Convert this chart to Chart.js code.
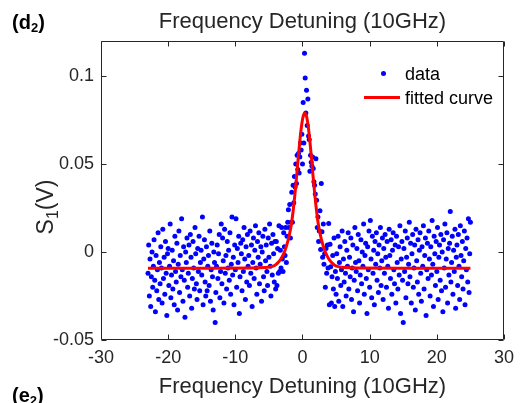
<!DOCTYPE html>
<html><head><meta charset="utf-8">
<script src="https://cdn.jsdelivr.net/npm/chart.js@4/dist/chart.umd.min.js"></script>
<style>
html,body{margin:0;padding:0;background:#fff;}
#wrap{position:relative;width:521px;height:403px;overflow:hidden;font-family:"Liberation Sans",Arial,sans-serif;color:#262626;}
canvas{position:absolute;left:0;top:0;}
.lbl{position:absolute;white-space:nowrap;}
</style></head><body>
<div id="wrap">
<canvas id="c" width="521" height="403"></canvas>
<div class="lbl" style="left:12px;top:12px;font-size:20px;line-height:20px;font-weight:bold;color:#000;">(d<sub style="font-size:13px;vertical-align:-3px;line-height:0;">2</sub>)</div>
<div class="lbl" style="left:12px;top:385px;font-size:20px;line-height:20px;font-weight:bold;color:#000;">(e<sub style="font-size:13px;vertical-align:-3px;line-height:0;">2</sub>)</div>
<div class="lbl" id="ylab" style="left:45px;top:207px;font-size:23px;line-height:23px;transform:translate(-50%,-50%) rotate(-90deg);">S<sub style="font-size:16px;vertical-align:-5px;line-height:0;">1</sub>(V)</div>
<div class="lbl" style="left:380.5px;top:70.5px;width:5px;height:5px;border-radius:50%;background:#0000FF;"></div>
<div class="lbl" style="left:364px;top:95.5px;width:36px;height:3px;background:#FF0000;"></div>
<div class="lbl" id="leg1" style="left:405px;top:64.8px;font-size:18px;line-height:18px;color:#000;">data</div>
<div class="lbl" id="leg2" style="left:405px;top:88.8px;font-size:18px;line-height:18px;color:#000;">fitted curve</div>
</div>
<script>
const FONT = '"Liberation Sans", Arial, sans-serif';
const titleText = 'Frequency Detuning (10GHz)';
const xTitleText = 'Frequency Detuning (10GHz)';
const xTickValues = [-30, -20, -10, 0, 10, 20, 30];
const xTickLabels = ['-30', '-20', '-10', '0', '10', '20', '30'];
const yTickValues = [-0.05, 0, 0.05, 0.1];
const yTickLabels = ['-0.05', '0', '0.05', '0.1'];

const xData = [
-23.0,-22.9,-22.8,-22.7,-22.6,-22.5,-22.4,-22.3,-22.2,-22.1,
-22.0,-21.9,-21.8,-21.7,-21.6,-21.5,-21.4,-21.3,-21.2,-21.1,
-21.0,-20.9,-20.8,-20.7,-20.6,-20.5,-20.4,-20.3,-20.2,-20.1,
-20.0,-19.9,-19.8,-19.7,-19.6,-19.5,-19.4,-19.3,-19.2,-19.1,
-19.0,-18.9,-18.8,-18.7,-18.6,-18.5,-18.4,-18.3,-18.2,-18.1,
-18.0,-17.9,-17.8,-17.7,-17.6,-17.5,-17.4,-17.3,-17.2,-17.1,
-17.0,-16.9,-16.8,-16.7,-16.6,-16.5,-16.4,-16.3,-16.2,-16.1,
-16.0,-15.9,-15.8,-15.7,-15.6,-15.5,-15.4,-15.3,-15.2,-15.1,
-15.0,-14.9,-14.8,-14.7,-14.6,-14.5,-14.4,-14.3,-14.2,-14.1,
-14.0,-13.9,-13.8,-13.7,-13.6,-13.5,-13.4,-13.3,-13.2,-13.1,
-13.0,-12.9,-12.8,-12.7,-12.6,-12.5,-12.4,-12.3,-12.2,-12.1,
-12.0,-11.9,-11.8,-11.7,-11.6,-11.5,-11.4,-11.3,-11.2,-11.1,
-11.0,-10.9,-10.8,-10.7,-10.6,-10.5,-10.4,-10.3,-10.2,-10.1,
-10.0,-9.9,-9.8,-9.7,-9.6,-9.5,-9.4,-9.3,-9.2,-9.1,
-9.0,-8.9,-8.8,-8.7,-8.6,-8.5,-8.4,-8.3,-8.2,-8.1,
-8.0,-7.9,-7.8,-7.7,-7.6,-7.5,-7.4,-7.3,-7.2,-7.1,
-7.0,-6.9,-6.8,-6.7,-6.6,-6.5,-6.4,-6.3,-6.2,-6.1,
-6.0,-5.9,-5.8,-5.7,-5.6,-5.5,-5.4,-5.3,-5.2,-5.1,
-5.0,-4.9,-4.8,-4.7,-4.6,-4.5,-4.4,-4.3,-4.2,-4.1,
-4.0,-3.9,-3.8,-3.7,-3.6,-3.5,-3.4,-3.3,-3.2,-3.1,
-3.0,-2.9,-2.8,-2.7,-2.6,-2.5,-2.4,-2.3,-2.2,-2.1,
-2.0,-1.9,-1.8,-1.7,-1.6,-1.5,-1.4,-1.3,-1.2,-1.1,
-1.0,-0.9,-0.8,-0.7,-0.6,-0.5,-0.4,-0.3,-0.2,-0.1,
0.0,0.1,0.2,0.3,0.4,0.5,0.6,0.7,0.8,0.9,
1.0,1.1,1.2,1.3,1.4,1.5,1.6,1.7,1.8,1.9,
2.0,2.1,2.2,2.3,2.4,2.5,2.6,2.7,2.8,2.9,
3.0,3.1,3.2,3.3,3.4,3.5,3.6,3.7,3.8,3.9,
4.0,4.1,4.2,4.3,4.4,4.5,4.6,4.7,4.8,4.9,
5.0,5.1,5.2,5.3,5.4,5.5,5.6,5.7,5.8,5.9,
6.0,6.1,6.2,6.3,6.4,6.5,6.6,6.7,6.8,6.9,
7.0,7.1,7.2,7.3,7.4,7.5,7.6,7.7,7.8,7.9,
8.0,8.1,8.2,8.3,8.4,8.5,8.6,8.7,8.8,8.9,
9.0,9.1,9.2,9.3,9.4,9.5,9.6,9.7,9.8,9.9,
10.0,10.1,10.2,10.3,10.4,10.5,10.6,10.7,10.8,10.9,
11.0,11.1,11.2,11.3,11.4,11.5,11.6,11.7,11.8,11.9,
12.0,12.1,12.2,12.3,12.4,12.5,12.6,12.7,12.8,12.9,
13.0,13.1,13.2,13.3,13.4,13.5,13.6,13.7,13.8,13.9,
14.0,14.1,14.2,14.3,14.4,14.5,14.6,14.7,14.8,14.9,
15.0,15.1,15.2,15.3,15.4,15.5,15.6,15.7,15.8,15.9,
16.0,16.1,16.2,16.3,16.4,16.5,16.6,16.7,16.8,16.9,
17.0,17.1,17.2,17.3,17.4,17.5,17.6,17.7,17.8,17.9,
18.0,18.1,18.2,18.3,18.4,18.5,18.6,18.7,18.8,18.9,
19.0,19.1,19.2,19.3,19.4,19.5,19.6,19.7,19.8,19.9,
20.0,20.1,20.2,20.3,20.4,20.5,20.6,20.7,20.8,20.9,
21.0,21.1,21.2,21.3,21.4,21.5,21.6,21.7,21.8,21.9,
22.0,22.1,22.2,22.3,22.4,22.5,22.6,22.7,22.8,22.9,
23.0,23.1,23.2,23.3,23.4,23.5,23.6,23.7,23.8,23.9,
24.0,24.1,24.2,24.3,24.4,24.5,24.6,24.7,24.8,24.9,
25.0
];

const yData = [
-0.012,0.004,-0.025,-0.004,-0.031,-0.014,0.000,-0.020,-0.008,0.007,
-0.016,-0.034,-0.002,-0.022,-0.010,0.011,-0.027,-0.006,-0.018,0.003,
-0.009,-0.029,0.013,-0.015,-0.003,-0.024,0.006,-0.012,-0.036,-0.001,
0.002,-0.019,-0.008,0.016,-0.026,-0.013,0.001,-0.021,-0.005,-0.030,
0.009,-0.011,-0.017,0.005,-0.033,-0.007,0.012,-0.023,-0.002,-0.014,
0.019,-0.010,-0.028,0.003,-0.016,-0.037,0.000,-0.006,0.008,-0.020,
-0.012,0.004,-0.025,0.010,-0.003,-0.032,-0.015,0.006,-0.009,-0.021,
0.014,-0.001,-0.018,-0.027,0.002,-0.011,0.009,-0.022,-0.006,0.001,
-0.013,0.020,-0.030,-0.004,0.007,-0.017,-0.025,0.003,-0.022,-0.008,
-0.002,-0.019,0.012,-0.028,-0.010,0.005,-0.014,-0.033,0.000,-0.006,
-0.040,-0.023,-0.008,0.004,-0.015,-0.001,0.010,-0.026,-0.011,0.016,
-0.018,0.008,-0.005,-0.029,0.013,-0.012,-0.002,-0.021,0.006,-0.009,
0.001,-0.016,0.011,-0.024,-0.007,0.020,-0.013,-0.003,-0.030,0.004,
-0.010,0.019,-0.020,0.002,-0.006,0.009,-0.035,-0.014,0.005,-0.001,
-0.022,0.007,-0.011,0.014,-0.004,-0.027,0.003,-0.017,0.010,-0.008,
-0.002,-0.019,0.012,-0.012,0.004,-0.031,-0.006,0.008,-0.015,0.001,
0.015,-0.009,-0.024,0.006,-0.003,0.011,-0.018,-0.007,0.003,-0.028,
0.000,0.009,-0.014,-0.022,0.013,-0.005,0.004,-0.011,-0.019,0.008,
-0.003,0.016,-0.008,-0.025,0.005,-0.013,0.010,-0.001,-0.017,0.006,
-0.021,0.006,-0.019,0.002,-0.012,0.015,-0.011,0.001,-0.009,0.014,
-0.004,-0.011,0.011,0.003,-0.002,0.014,-0.006,0.009,0.017,0.024,
0.014,0.027,0.008,0.017,0.034,0.017,0.038,0.028,0.043,0.037,
0.050,0.039,0.055,0.047,0.056,0.045,0.054,0.062,0.058,0.067,
0.050,0.085,0.062,0.113,0.099,0.079,0.092,0.072,0.087,0.066,
0.064,0.046,0.055,0.051,0.049,0.054,0.0475,0.040,0.038,0.033,
0.053,0.0295,0.014,0.020,0.006,0.012,0.0235,0.0015,0.039,0.0115,
-0.003,0.016,-0.007,-0.001,-0.020,0.002,-0.012,0.004,-0.009,0.0163,
-0.030,0.0045,-0.0083,-0.029,-0.014,-0.002,-0.021,0.008,-0.031,-0.011,
-0.024,-0.001,-0.015,0.009,-0.028,-0.006,0.003,-0.019,-0.010,0.012,
-0.031,-0.004,-0.017,0.006,-0.012,-0.025,0.001,-0.008,0.011,-0.021,
-0.003,-0.014,0.008,-0.027,-0.009,0.004,-0.034,-0.016,0.014,-0.006,
-0.011,0.002,-0.022,0.010,-0.005,-0.029,-0.013,0.007,-0.018,0.000,
-0.008,0.016,-0.024,-0.002,0.005,-0.015,-0.035,0.003,-0.010,0.012,
-0.020,0.018,-0.004,-0.026,0.009,-0.012,0.001,-0.030,0.006,-0.007,
0.011,-0.016,-0.001,-0.023,0.004,-0.009,0.014,-0.019,-0.005,0.008,
-0.027,0.002,-0.012,0.010,-0.003,-0.020,0.006,-0.008,-0.032,0.013,
-0.002,-0.015,0.007,-0.024,0.001,0.011,-0.010,-0.018,0.004,-0.029,
0.009,-0.006,-0.021,0.003,-0.013,0.015,-0.035,-0.004,0.006,-0.016,
-0.040,0.002,-0.011,0.012,-0.026,-0.003,0.008,-0.018,-0.007,0.017,
-0.014,0.005,-0.029,-0.001,0.010,-0.020,-0.009,0.004,-0.033,0.013,
-0.005,-0.017,0.007,-0.024,0.001,0.011,-0.012,-0.028,0.003,-0.008,
0.015,-0.021,-0.002,0.008,-0.036,-0.010,0.005,-0.015,0.012,-0.004,
-0.025,0.003,-0.013,0.018,-0.007,-0.031,0.009,-0.001,-0.019,0.006,
-0.011,0.014,-0.027,-0.003,0.004,-0.016,0.010,-0.022,0.000,-0.034,
0.007,-0.009,0.016,-0.020,-0.004,0.011,-0.029,0.002,-0.013,0.005,
0.023,-0.017,-0.006,0.009,-0.024,0.001,-0.011,0.013,-0.032,-0.003,
0.004,-0.019,0.010,-0.008,-0.027,0.015,-0.002,-0.014,0.006,-0.021,
-0.005,0.012,-0.030,0.002,-0.010,0.008,-0.017,0.019,-0.023,-0.001,
0.017
];

const curveX = [-23, -15, -7.65, -5.65, -4.65, -4.15, -3.65, -3.15, -2.65, -2.15, -1.9, -1.65, -1.4, -1.15, -0.9, -0.65, -0.4, -0.15, 0.1, 0.35, 0.6, 0.85, 1.1, 1.35, 1.6, 1.85, 2.1, 2.35, 2.6, 2.85, 3.35, 3.85, 4.35, 4.85, 5.35, 6.35, 8.35, 15, 25];
const curveY = [-0.0092, -0.0092, -0.0091, -0.0088, -0.0083, -0.0076, -0.0060, -0.0035, 0.0005, 0.0066, 0.0108, 0.0160, 0.0232, 0.0320, 0.0420, 0.0530, 0.0630, 0.0715, 0.0771, 0.0790, 0.0771, 0.0715, 0.0630, 0.0530, 0.0420, 0.0320, 0.0232, 0.0160, 0.0108, 0.0066, 0.0005, -0.0035, -0.0060, -0.0076, -0.0083, -0.0088, -0.0091, -0.0092, -0.0092];

const boxPlugin = {
  id: 'matlabBox',
  afterDatasetsDraw(chart) {
    const {ctx, chartArea: a, scales: {x, y}} = chart;
    ctx.save();
    ctx.strokeStyle = '#262626';
    ctx.lineWidth = 1;
    const L = Math.round(a.left) + 0.5, R = Math.round(a.right) - 0.5;
    const T = Math.round(a.top) + 0.5, B = Math.round(a.bottom) - 0.5;
    ctx.beginPath();
    ctx.rect(L, T, R - L, B - T);
    x.ticks.forEach(t => {
      const p = Math.round(x.getPixelForValue(t.value)) + 0.5;
      ctx.moveTo(p, B); ctx.lineTo(p, B - 5);
      ctx.moveTo(p, T); ctx.lineTo(p, T + 5);
    });
    y.ticks.forEach(t => {
      const p = Math.round(y.getPixelForValue(t.value)) + 0.5;
      ctx.moveTo(L, p); ctx.lineTo(L + 5, p);
      ctx.moveTo(R, p); ctx.lineTo(R - 5, p);
    });
    ctx.stroke();
    ctx.restore();
  }
};

new Chart(document.getElementById('c'), {
  type: 'scatter',
  data: {
    datasets: [
      {
        label: 'data',
        order: 1,
        data: xData.map((x, i) => ({x: x, y: yData[i]})),
        showLine: false,
        pointRadius: 2.5,
        pointHoverRadius: 2.5,
        pointBackgroundColor: '#0000FF',
        pointBorderWidth: 0
      },
      {
        label: 'fitted curve',
        order: 0,
        data: curveX.map((x, i) => ({x: x, y: curveY[i]})),
        showLine: true,
        borderColor: '#FF0000',
        borderWidth: 3,
        pointRadius: 0,
        cubicInterpolationMode: 'monotone',
        fill: false
      }
    ]
  },
  options: {
    responsive: false,
    animation: false,
    events: [],
    layout: {padding: {left: 0, right: 17, top: 0, bottom: 0}},
    plugins: {
      legend: {display: false},
      tooltip: {enabled: false},
      title: {
        display: true, fullSize: false, text: titleText, color: '#262626',
        font: {family: FONT, size: 22, weight: 'normal'},
        padding: {top: 8.8, bottom: 5.8}
      }
    },
    scales: {
      x: {
        type: 'linear', min: -30, max: 30,
        grid: {display: false, drawTicks: false}, border: {display: false},
        afterBuildTicks: s => { s.ticks = xTickValues.map(v => ({value: v})); },
        ticks: {
          padding: 7, color: '#262626', maxRotation: 0, autoSkip: false,
          font: {family: FONT, size: 18},
          callback: v => xTickLabels[xTickValues.indexOf(v)]
        },
        title: {
          display: true, text: xTitleText, color: '#262626',
          font: {family: FONT, size: 22, weight: 'normal'},
          padding: {top: 0, bottom: 3}
        },
        afterFit: s => { s.height = 63; }
      },
      y: {
        type: 'linear', min: -0.05, max: 0.12,
        grid: {display: false, drawTicks: false}, border: {display: false},
        afterBuildTicks: s => { s.ticks = yTickValues.map(v => ({value: v})); },
        ticks: {
          padding: 7, color: '#262626', autoSkip: false,
          font: {family: FONT, size: 18},
          callback: v => yTickLabels[yTickValues.indexOf(v)]
        },
        afterFit: s => { s.width = 101; }
      }
    }
  },
  plugins: [boxPlugin]
});
</script>
</body></html>
